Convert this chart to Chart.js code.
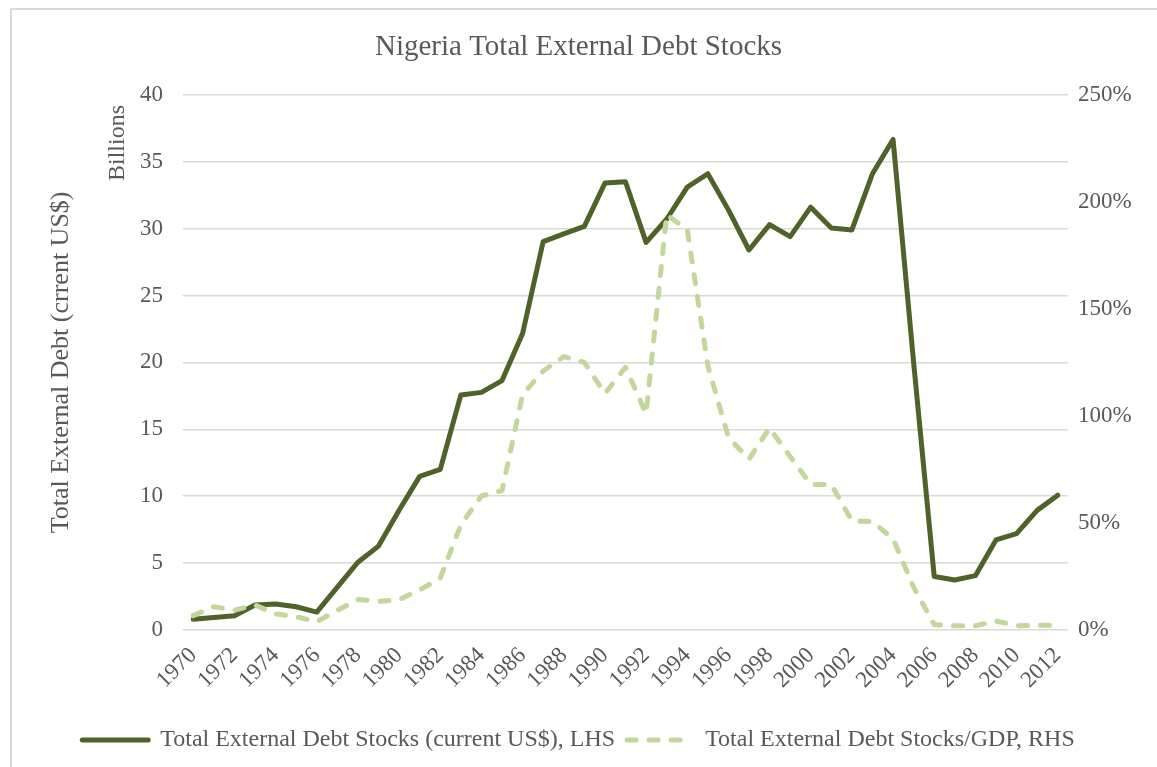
<!DOCTYPE html>
<html>
<head>
<meta charset="utf-8">
<title>Nigeria Total External Debt Stocks</title>
<script src="https://cdn.jsdelivr.net/npm/chart.js@4.4.1/dist/chart.umd.min.js"></script>
<style>
  html, body { margin: 0; padding: 0; background: #ffffff; }
  #wrap { position: relative; width: 1157px; height: 767px; overflow: hidden; }
  #frame { position: absolute; left: 10px; top: 8px; right: -10px; bottom: -10px;
           border-left: 2px solid #d9d9d9; border-top: 2px solid #d9d9d9; pointer-events: none; }
  canvas { position: absolute; left: 0; top: 0; }
</style>
</head>
<body>
<div id="wrap">
  <div id="frame"></div>
  <canvas id="chart" width="1157" height="767"></canvas>
</div>
<script>
// Years on the category axis
const years = [
  1970, 1971, 1972, 1973, 1974, 1975, 1976, 1977, 1978, 1979,
  1980, 1981, 1982, 1983, 1984, 1985, 1986, 1987, 1988, 1989,
  1990, 1991, 1992, 1993, 1994, 1995, 1996, 1997, 1998, 1999,
  2000, 2001, 2002, 2003, 2004, 2005, 2006, 2007, 2008, 2009,
  2010, 2011, 2012
];

// Total external debt stocks, current US$ billions (left axis)
const debtBillions = [
  0.8, 0.93, 1.07, 1.87, 1.95, 1.74, 1.34, 3.2, 5.07, 6.27,
  8.95, 11.48, 12.0, 17.57, 17.76, 18.64, 22.16, 29.03, 29.6, 30.17,
  33.4, 33.5, 28.97, 30.7, 33.1, 34.1, 31.4, 28.4, 30.3, 29.4,
  31.6, 30.04, 29.9, 34.1, 36.66, 20.0, 4.0, 3.74, 4.06, 6.73,
  7.2, 8.94, 10.07
];

// Total external debt stocks as a share of GDP, percent (right axis)
const debtToGdpPct = [
  6.7, 10.9, 9.2, 11.7, 7.5, 6.2, 3.8, 9.2, 14.2, 13.4,
  14.2, 18.7, 24.2, 49.2, 62.6, 65.1, 110, 121, 127.7, 125,
  110.5, 122.7, 101, 194, 187, 123.5, 90, 79.8, 94.3, 81,
  68, 68, 51, 50.6, 42.6, 20, 2.5, 2, 2, 4.2,
  2, 2.2, 2.2
];

// Axis ranges and labels
const leftTicks = { min: 0, max: 40, step: 5 };
const rightTicks = { min: 0, max: 250, step: 50 };
const seriesLabels = [
  'Total External Debt Stocks (current US$), LHS',
  'Total External Debt Stocks/GDP, RHS'
];
const chartTitle = 'Nigeria Total External Debt Stocks';
const leftAxisTitle = 'Total External Debt (crrent US$)';
const unitsLabel = 'Billions';

const SERIF = '"Liberation Serif", "Times New Roman", Times, serif';
const TEXT = '#595959';
const DARK = '#4F6228';
const LIGHT = '#C3D69B';

// Display-units caption beside the left axis
const unitsPlugin = {
  id: 'unitsCaption',
  afterDraw(chart) {
    const ctx = chart.ctx;
    ctx.save();
    ctx.font = '24px ' + SERIF;
    ctx.fillStyle = TEXT;
    ctx.textAlign = 'center';
    ctx.textBaseline = 'middle';
    ctx.translate(118, 143);
    ctx.rotate(-Math.PI / 2);
    ctx.fillText(unitsLabel, 0, 0);
    ctx.restore();
  }
};

// Legend entries drawn as line samples carrying each series' dash pattern
function lineLegendLabels(chart) {
  const items = Chart.defaults.plugins.legend.labels.generateLabels(chart);
  items.forEach((item) => {
    const ds = chart.data.datasets[item.datasetIndex];
    item.lineDash = ds.borderDash || [];
    item.lineCap = 'round';
    item.lineWidth = ds.borderWidth;
    item.strokeStyle = ds.borderColor;
    item.pointStyle = 'line';
  });
  return items.sort((a, b) => a.datasetIndex - b.datasetIndex);
}

new Chart(document.getElementById('chart'), {
  type: 'line',
  data: {
    labels: years.map(String),
    datasets: [
      {
        label: seriesLabels[0],
        data: debtBillions,
        yAxisID: 'y',
        borderColor: DARK,
        backgroundColor: DARK,
        borderWidth: 5,
        borderJoinStyle: 'round',
        borderCapStyle: 'round',
        pointRadius: 0,
        tension: 0,
        order: 1
      },
      {
        label: seriesLabels[1],
        data: debtToGdpPct,
        yAxisID: 'y1',
        borderColor: LIGHT,
        backgroundColor: LIGHT,
        borderWidth: 5,
        borderDash: [9, 13],
        borderJoinStyle: 'round',
        borderCapStyle: 'round',
        pointRadius: 0,
        tension: 0,
        order: 0
      }
    ]
  },
  plugins: [unitsPlugin],
  options: {
    responsive: false,
    animation: false,
    devicePixelRatio: 1,
    layout: { padding: { left: 0, right: 0, top: 0, bottom: 5 } },
    plugins: {
      tooltip: { enabled: false },
      title: {
        display: true,
        text: chartTitle,
        color: TEXT,
        font: { family: SERIF, size: 29, weight: 'normal' },
        padding: { top: 30, bottom: 30 }
      },
      legend: {
        display: true,
        position: 'bottom',
        labels: {
          usePointStyle: true,
          pointStyle: 'line',
          pointStyleWidth: 66,
          padding: 12,
          color: TEXT,
          font: { family: SERIF, size: 24 },
          generateLabels: lineLegendLabels
        }
      }
    },
    scales: {
      x: {
        type: 'category',
        offset: true,
        grid: { display: false },
        border: { display: false },
        ticks: {
          autoSkip: false,
          maxRotation: 45,
          minRotation: 45,
          padding: 4,
          color: TEXT,
          font: { family: SERIF, size: 23 },
          callback: function (value, index) {
            return index % 2 === 0 ? this.getLabelForValue(value) : '';
          }
        },
        afterFit: (scale) => { scale.height = 86; }
      },
      y: {
        position: 'left',
        min: leftTicks.min,
        max: leftTicks.max,
        grid: { color: '#d9d9d9', lineWidth: 1.5, drawTicks: false },
        border: { display: false },
        ticks: {
          stepSize: leftTicks.step,
          padding: 20,
          color: TEXT,
          font: { family: SERIF, size: 23 }
        },
        title: {
          display: true,
          text: leftAxisTitle,
          color: TEXT,
          font: { family: SERIF, size: 26 },
          padding: { top: 46, bottom: 0 }
        },
        afterFit: (scale) => { scale.width = 183; }
      },
      y1: {
        position: 'right',
        min: rightTicks.min,
        max: rightTicks.max,
        grid: { display: false, drawTicks: false },
        border: { display: false },
        ticks: {
          stepSize: rightTicks.step,
          padding: 10,
          color: TEXT,
          font: { family: SERIF, size: 23 },
          callback: (v) => v + '%'
        },
        afterFit: (scale) => { scale.width = 89; }
      }
    }
  }
});
</script>
</body>
</html>
